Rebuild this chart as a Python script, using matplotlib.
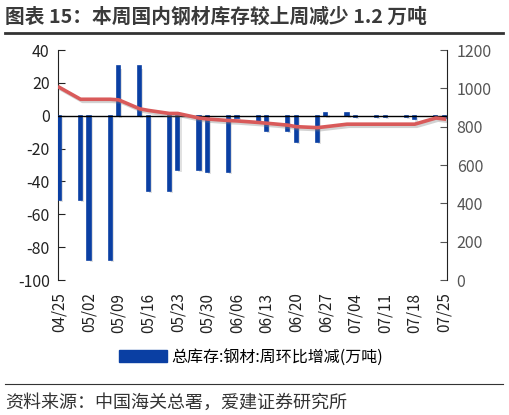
import numpy as np
import pandas as pd
import matplotlib
matplotlib.use("Agg")
import matplotlib.pyplot as plt
import matplotlib.dates as mdates
import matplotlib.patheffects as pe
from matplotlib.patches import Patch
from matplotlib.lines import Line2D

plt.rcParams['font.family'] = ['Noto Sans CJK SC', 'DejaVu Sans']
plt.rcParams['axes.unicode_minus'] = False

# data
dates = ["2025-04-25", "2025-04-30", "2025-05-02", "2025-05-07", "2025-05-09",
         "2025-05-14", "2025-05-16", "2025-05-21", "2025-05-23", "2025-05-28",
         "2025-05-30", "2025-06-04", "2025-06-06", "2025-06-11", "2025-06-13",
         "2025-06-18", "2025-06-20", "2025-06-25", "2025-06-27", "2025-07-02",
         "2025-07-04", "2025-07-09", "2025-07-11", "2025-07-16", "2025-07-18",
         "2025-07-23", "2025-07-25"]
weekly_change = [-51, -51, -88, -88, 30, 30, -46, -46, -33, -33,
                 -34, -34, -1.5, -3, -9.5, -9.5, -16, -16, 1.8, 1.8,
                 -1.0, -0.8, -0.8, -0.8, -2.3, -0.8, -1.2]
total_stock = [1005, 943, 943, 943, 940, 893, 885, 869, 869, 845,
               840, 832, 830, 822, 818, 808, 800, 795, 800, 813,
               813, 813, 813, 813, 813, 845, 840]
tick_dates = pd.date_range("2025-04-25", "2025-07-25", freq="7D")

bar_color = "#0A3FA3"
line_color = "#D95A5A"

x = pd.to_datetime(dates)

fig = plt.figure(figsize=(5.1, 4.15), dpi=100)
ax = fig.add_axes([0.1137, 0.3253, 0.7627, 0.5542])
ax2 = ax.twinx()

bars = ax.bar(x, weekly_change, width=0.75, color=bar_color,
              edgecolor=bar_color, linewidth=1.2, zorder=3)
for b in bars:
    b.set_path_effects([pe.withSimplePatchShadow(offset=(1.5, -1.5),
                                                 shadow_rgbFace="#888888", alpha=0.25)])
ax.axhline(0, color="black", lw=1.0, zorder=4)

ax2.plot(x, total_stock, color=line_color, lw=2.6, zorder=5,
         path_effects=[pe.SimpleLineShadow(offset=(1.5, -1.5), shadow_color="gray", alpha=0.35),
                       pe.Normal()])

ax.set_ylim(-100, 40)
ax.set_yticks(np.arange(-100, 41, 20))
ax2.set_ylim(0, 1200)
ax2.set_yticks(np.arange(0, 1201, 200))

ax.set_xlim(x[0] - pd.Timedelta(hours=8), x[-1] + pd.Timedelta(hours=15))
ax.set_xticks(tick_dates)
ax.xaxis.set_major_formatter(mdates.DateFormatter("%m/%d"))
ax.tick_params(axis="x", length=0, pad=9, labelsize=11, rotation=90, colors="#222222")
ax.tick_params(axis="y", direction="in", length=5, labelsize=11.5, colors="#222222", pad=6)
ax2.tick_params(axis="y", direction="in", length=5, labelsize=11.5, colors="#555555", pad=7)

for a in (ax, ax2):
    a.spines["top"].set_visible(False)
    a.spines["bottom"].set_visible(False)
ax.spines["right"].set_visible(False)
ax2.spines["left"].set_visible(False)
ax.spines["left"].set_color("#222222")
ax2.spines["right"].set_color("#222222")

fig.legend(handles=[Patch(color=bar_color, label="总库存:钢材:周环比增减(万吨)")],
           loc="center", bbox_to_anchor=(0.492, 0.140), frameon=False,
           fontsize=11.5, handlelength=3.0, handleheight=0.8, handletextpad=0.3)

fig.text(0.01, 0.959, "图表 15：本周国内钢材库存较上周减少 1.2 万吨",
         fontsize=14.2, fontweight="bold", color="#3a3a3a", va="center", ha="left")
fig.add_artist(Line2D([0.01, 0.986], [1 - 33 / 415, 1 - 33 / 415],
                      transform=fig.transFigure, color="#333333", lw=2))
fig.add_artist(Line2D([0.01, 0.986], [1 - 384 / 415, 1 - 384 / 415],
                      transform=fig.transFigure, color="#333333", lw=0.8))
fig.text(0.01, 1 - 403 / 415, "资料来源：中国海关总署，爱建证券研究所",
         fontsize=13, color="#333333", va="center", ha="left")

fig.savefig("out.png", dpi=100)
